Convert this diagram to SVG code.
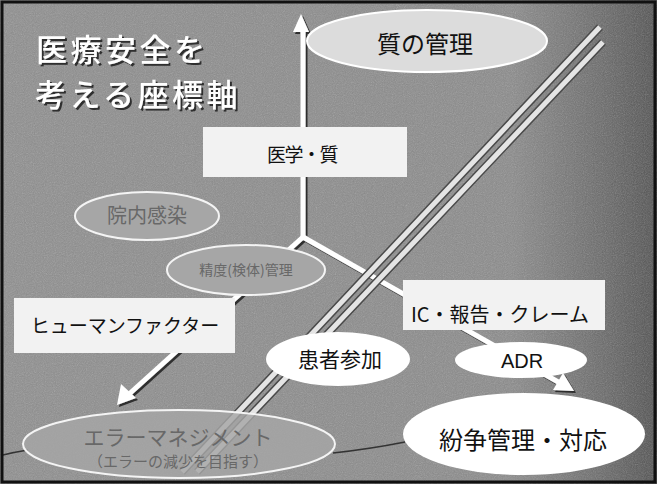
<svg xmlns="http://www.w3.org/2000/svg" width="657" height="484" viewBox="0 0 657 484">
<defs>
<linearGradient id="bg" x1="0" y1="0" x2="1" y2="0">
<stop offset="0" stop-color="#8e8e8e"/>
<stop offset="0.78" stop-color="#8a8a8a"/>
<stop offset="0.92" stop-color="#686868"/>
<stop offset="1" stop-color="#505050"/>
</linearGradient>
<filter id="noise" x="0" y="0" width="100%" height="100%">
<feTurbulence type="fractalNoise" baseFrequency="0.9" numOctaves="2" result="n"/>
<feColorMatrix type="saturate" values="0"/>
<feComponentTransfer><feFuncA type="table" tableValues="0 0.35"/></feComponentTransfer>
</filter>
<filter id="shadow" x="-10%" y="-10%" width="130%" height="130%">
<feDropShadow dx="2" dy="2" stdDeviation="0.6" flood-color="#222" flood-opacity="0.9"/>
</filter>
</defs>
<style>
.cjk{font-family:"Noto Sans CJK JP","Noto Sans",sans-serif}
.title{fill:#fff;font-size:31px;font-weight:500;letter-spacing:3.5px}
.lbl{fill:#111;text-anchor:middle}
.glbl{fill:#686868;text-anchor:middle}
.axis{stroke:#fff;stroke-width:5;fill:none;stroke-linecap:butt}
.rail{stroke:#e4e4e4;stroke-width:5;fill:none}
.railo{stroke:#4a4a4a;stroke-width:8;fill:none}
.box{fill:#f2f2f2}
.wel{fill:#fff}
.gel{fill:#a6a6a6;stroke:#f4f4f4;stroke-width:2}
</style>
<rect x="0" y="0" width="657" height="484" fill="url(#bg)"/>
<rect x="0" y="0" width="657" height="484" filter="url(#noise)"/>
<path d="M3,455 Q15,452 28,450 M333,453 Q370,449 405,442" stroke="#333" stroke-width="1.5" fill="none"/>
<rect x="2" y="2" width="653" height="480" fill="none" stroke="#111" stroke-width="3"/>

<g id="title" class="cjk" filter="url(#shadow)">
<text class="title" x="36" y="61">医療安全を</text>
<text class="title" x="35" y="106">考える座標軸</text>
</g>

<g id="connectors" filter="url(#shadow)">
<path class="axis" d="M303,237 V30"/>
<path d="M293,32 L301,14 L309,32 Z" fill="#fff"/>
<path class="axis" d="M303,237 L128,395"/>
<path d="M117,405 L121,384 L136,398 Z" fill="#fff"/>
<path class="axis" d="M303,237 L560,383"/>
<path d="M574,391 L553,390 L563,373 Z" fill="#fff"/>
</g>

<g id="node-quality-mgmt">
<ellipse cx="427" cy="41" rx="120" ry="31" fill="#dcdcdc" stroke="#fff" stroke-width="2"/>
<text class="cjk lbl" x="425" y="53" font-size="24" fill="#333">質の管理</text>
</g>

<g id="node-medicine">
<rect class="box" x="203" y="127" width="204" height="50"/>
<text class="cjk lbl" x="302" y="162" font-size="19" letter-spacing="-1.5">医学・質</text>
</g>

<g id="node-infection">
<ellipse class="gel" cx="147" cy="216" rx="72" ry="24"/>
<text class="cjk glbl" x="147" y="223" font-size="20">院内感染</text>
</g>

<g id="node-accuracy">
<ellipse class="gel" cx="246" cy="270" rx="79" ry="25"/>
<text class="cjk glbl" x="246" y="275" font-size="14">精度(検体)管理</text>
</g>

<g id="node-human">
<rect class="box" x="14" y="298" width="221" height="55"/>
<text class="cjk lbl" x="125" y="333" font-size="19">ヒューマンファクター</text>
</g>

<g id="node-ic">
<rect class="box" x="403" y="280" width="202" height="50"/>
<text class="cjk lbl" x="500" y="322" font-size="20">IC・報告・クレーム</text>
</g>

<g id="node-adr">
<ellipse class="wel" cx="521" cy="360" rx="66" ry="18"/>
<text class="lbl" x="522" y="368" font-size="20" font-family="Liberation Sans, Arial, sans-serif">ADR</text>
</g>

<g id="node-dispute">
<ellipse class="wel" cx="524" cy="434" rx="121" ry="41"/>
<text class="cjk lbl" x="523" y="449" font-size="24">紛争管理・対応</text>
</g>

<g id="rails">
<path class="railo" d="M600,27 L182,472 M603,42 L197,472"/>
<path class="rail" d="M600,27 L182,472 M603,42 L197,472"/>
</g>

<g id="node-error">
<ellipse cx="179" cy="444" rx="156" ry="34" fill="#a6a6a6" fill-opacity="0.82" stroke="#f4f4f4" stroke-width="2"/>
<text class="cjk glbl" x="178" y="445" font-size="21">エラーマネジメント</text>
<text class="cjk glbl" x="178" y="467" font-size="15">（エラーの減少を目指す）</text>
</g>

<g id="node-patient">
<ellipse class="wel" cx="338" cy="359" rx="72" ry="27"/>
<text class="cjk lbl" x="340" y="367" font-size="21">患者参加</text>
</g>
</svg>
